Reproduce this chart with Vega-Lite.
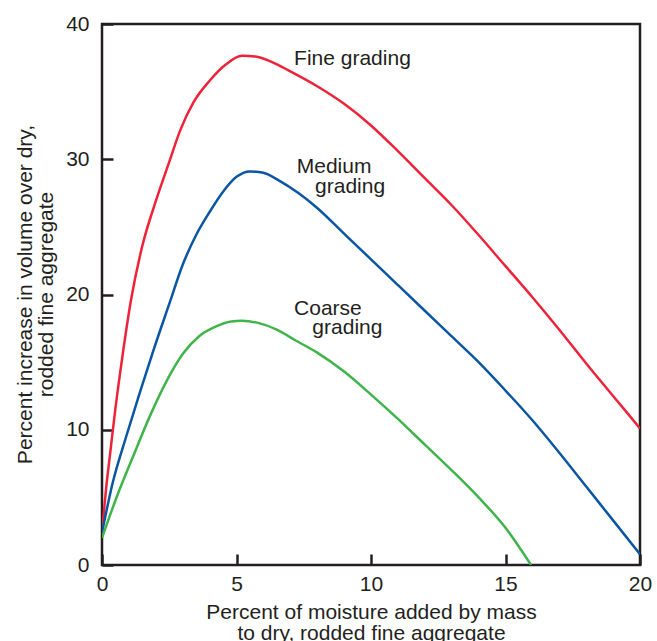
{
  "$schema": "https://vega.github.io/schema/vega-lite/v6.json",
  "width": 538,
  "height": 541,
  "autosize": {"type": "none"},
  "padding": {"left": 102, "top": 24, "right": 17, "bottom": 76},
  "background": "white",
  "datasets": {
    "curves": [
      {"grading": "Fine", "x": 0, "y": 2.3},
      {"grading": "Fine", "x": 0.15, "y": 5.6},
      {"grading": "Fine", "x": 0.3, "y": 8.2},
      {"grading": "Fine", "x": 0.5, "y": 11.6},
      {"grading": "Fine", "x": 0.75, "y": 15.3},
      {"grading": "Fine", "x": 1.07, "y": 19.5},
      {"grading": "Fine", "x": 1.5, "y": 23.6},
      {"grading": "Fine", "x": 2.0, "y": 26.9},
      {"grading": "Fine", "x": 2.5, "y": 29.8},
      {"grading": "Fine", "x": 2.9, "y": 32.1},
      {"grading": "Fine", "x": 3.4, "y": 34.2},
      {"grading": "Fine", "x": 4.0, "y": 35.8},
      {"grading": "Fine", "x": 4.6, "y": 37.0},
      {"grading": "Fine", "x": 5.2, "y": 37.65},
      {"grading": "Fine", "x": 5.7, "y": 37.6},
      {"grading": "Fine", "x": 6.3, "y": 37.2},
      {"grading": "Fine", "x": 7.0, "y": 36.5},
      {"grading": "Fine", "x": 8.0, "y": 35.4},
      {"grading": "Fine", "x": 9.0, "y": 34.1},
      {"grading": "Fine", "x": 10.0, "y": 32.5},
      {"grading": "Fine", "x": 11.0, "y": 30.6},
      {"grading": "Fine", "x": 12.0, "y": 28.6},
      {"grading": "Fine", "x": 13.0, "y": 26.6},
      {"grading": "Fine", "x": 14.0, "y": 24.4},
      {"grading": "Fine", "x": 15.0, "y": 22.1},
      {"grading": "Fine", "x": 16.0, "y": 19.8},
      {"grading": "Fine", "x": 17.0, "y": 17.4},
      {"grading": "Fine", "x": 18.0, "y": 14.9},
      {"grading": "Fine", "x": 19.0, "y": 12.5},
      {"grading": "Fine", "x": 20.0, "y": 10.1},
      {"grading": "Medium", "x": 0, "y": 2.4},
      {"grading": "Medium", "x": 0.4, "y": 6.1},
      {"grading": "Medium", "x": 0.9, "y": 9.5},
      {"grading": "Medium", "x": 1.4, "y": 12.7},
      {"grading": "Medium", "x": 1.9, "y": 15.8},
      {"grading": "Medium", "x": 2.5, "y": 19.3},
      {"grading": "Medium", "x": 3.0, "y": 22.2},
      {"grading": "Medium", "x": 3.5, "y": 24.4},
      {"grading": "Medium", "x": 4.0, "y": 26.1},
      {"grading": "Medium", "x": 4.5, "y": 27.6},
      {"grading": "Medium", "x": 5.0, "y": 28.7},
      {"grading": "Medium", "x": 5.5, "y": 29.1},
      {"grading": "Medium", "x": 6.0, "y": 29.0},
      {"grading": "Medium", "x": 6.6, "y": 28.4},
      {"grading": "Medium", "x": 7.3, "y": 27.5},
      {"grading": "Medium", "x": 8.0, "y": 26.4},
      {"grading": "Medium", "x": 9.0, "y": 24.5},
      {"grading": "Medium", "x": 10.0, "y": 22.6},
      {"grading": "Medium", "x": 11.0, "y": 20.7},
      {"grading": "Medium", "x": 12.0, "y": 18.8},
      {"grading": "Medium", "x": 13.0, "y": 16.9},
      {"grading": "Medium", "x": 14.0, "y": 15.0},
      {"grading": "Medium", "x": 15.0, "y": 12.9},
      {"grading": "Medium", "x": 16.0, "y": 10.7},
      {"grading": "Medium", "x": 17.0, "y": 8.3},
      {"grading": "Medium", "x": 18.0, "y": 5.8},
      {"grading": "Medium", "x": 19.0, "y": 3.3},
      {"grading": "Medium", "x": 20.0, "y": 0.8},
      {"grading": "Coarse", "x": 0, "y": 2.0},
      {"grading": "Coarse", "x": 0.55, "y": 5.05},
      {"grading": "Coarse", "x": 1.15, "y": 8.0},
      {"grading": "Coarse", "x": 1.8, "y": 11.1},
      {"grading": "Coarse", "x": 2.4, "y": 13.6},
      {"grading": "Coarse", "x": 3.0, "y": 15.6},
      {"grading": "Coarse", "x": 3.6, "y": 16.9},
      {"grading": "Coarse", "x": 4.2, "y": 17.6},
      {"grading": "Coarse", "x": 4.8, "y": 18.0},
      {"grading": "Coarse", "x": 5.2, "y": 18.05},
      {"grading": "Coarse", "x": 5.8, "y": 17.9},
      {"grading": "Coarse", "x": 6.5, "y": 17.4},
      {"grading": "Coarse", "x": 7.2, "y": 16.6},
      {"grading": "Coarse", "x": 8.0, "y": 15.7},
      {"grading": "Coarse", "x": 9.0, "y": 14.3},
      {"grading": "Coarse", "x": 10.0, "y": 12.6},
      {"grading": "Coarse", "x": 11.0, "y": 10.8},
      {"grading": "Coarse", "x": 12.0, "y": 8.9},
      {"grading": "Coarse", "x": 13.0, "y": 7.0},
      {"grading": "Coarse", "x": 14.0, "y": 5.0},
      {"grading": "Coarse", "x": 15.0, "y": 2.75},
      {"grading": "Coarse", "x": 15.95, "y": 0}
    ],
    "labels": [
      {"x": 7.14, "y": 36.97, "text": "Fine grading"},
      {"x": 7.24, "y": 28.96, "text": "Medium"},
      {"x": 7.92, "y": 27.5, "text": "grading"},
      {"x": 7.14, "y": 18.48, "text": "Coarse"},
      {"x": 7.82, "y": 17.1, "text": "grading"}
    ]
  },
  "encoding": {
    "x": {
      "field": "x",
      "type": "quantitative",
      "scale": {"domain": [0, 20], "nice": false},
      "title": ["Percent of moisture added by mass", "to dry, rodded fine aggregate"],
      "axis": {"values": [0, 5, 10, 15, 20], "labelPadding": 19, "titleX": 269, "titleY": 53, "titleAlign": "center", "titleBaseline": "alphabetic", "titleAnchor": "middle"}
    },
    "y": {
      "field": "y",
      "type": "quantitative",
      "scale": {"domain": [0, 40], "nice": false},
      "title": ["Percent increase in volume over dry,", "rodded fine aggregate"],
      "axis": {"values": [0, 10, 20, 30, 40], "labelPadding": 24, "titleX": -71, "titleY": 270, "titleAngle": -90, "titleAlign": "center", "titleBaseline": "alphabetic"}
    }
  },
  "layer": [
    {
      "data": {"name": "curves"},
      "mark": {"type": "line", "interpolate": "monotone", "strokeWidth": 2.5, "clip": true},
      "encoding": {
        "color": {
          "field": "grading",
          "type": "nominal",
          "scale": {"domain": ["Fine", "Medium", "Coarse"], "range": ["#EE2239", "#0A56A2", "#3FB44B"]},
          "legend": null
        }
      }
    },
    {
      "data": {"name": "labels"},
      "mark": {"type": "text", "align": "left", "baseline": "alphabetic", "font": "Liberation Sans", "fontSize": 21, "color": "#231f20"},
      "encoding": {
        "text": {"field": "text", "type": "nominal"}
      }
    }
  ],
  "config": {
    "view": {"stroke": "#231f20", "strokeWidth": 2.5},
    "axis": {
      "domain": false,
      "grid": false,
      "ticks": true,
      "zindex": 1,
      "tickColor": "#231f20",
      "tickWidth": 2.5,
      "tickSize": -11,
      "labelFont": "Liberation Sans",
      "labelFontSize": 21,
      "labelColor": "#231f20",
      "labelFlush": false,
      "titleFont": "Liberation Sans",
      "titleFontSize": 21,
      "titleFontWeight": "normal",
      "titleColor": "#231f20",
      "titleLineHeight": 21
    }
  }
}
